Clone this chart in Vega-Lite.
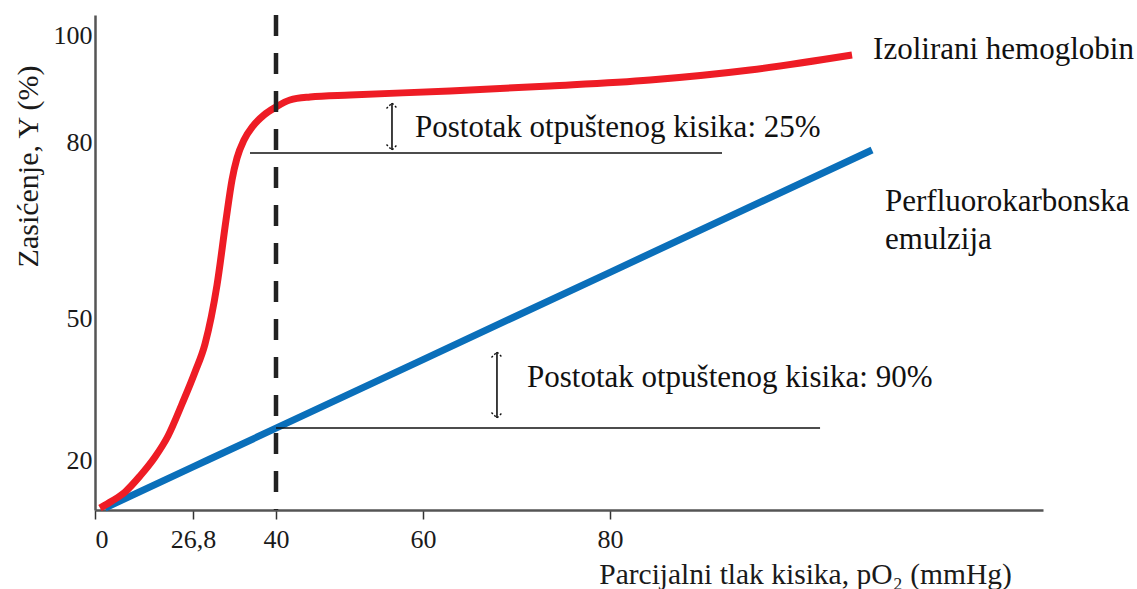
{
  "$schema": "https://vega.github.io/schema/vega-lite/v6.json",
  "width": 948,
  "height": 495,
  "autosize": {"type": "none"},
  "padding": {"left": 95, "top": 15, "right": 94, "bottom": 79},
  "background": "white",
  "config": {
    "view": {"stroke": null},
    "font": "'Liberation Serif', 'Times New Roman', serif"
  },
  "datasets": {
    "red": [
      {"p": 1.37, "s": 9.85},
      {"p": 4.65, "s": 11.33},
      {"p": 8.2, "s": 13.23},
      {"p": 12.31, "s": 16.62},
      {"p": 16.41, "s": 20.63},
      {"p": 19.96, "s": 25.07},
      {"p": 23.79, "s": 31.83},
      {"p": 27.12, "s": 38.59},
      {"p": 28.71, "s": 44.51},
      {"p": 30.62, "s": 55.62},
      {"p": 32.05, "s": 66.7},
      {"p": 33.0, "s": 73.52},
      {"p": 33.8, "s": 77.27},
      {"p": 34.91, "s": 80.37},
      {"p": 36.34, "s": 82.99},
      {"p": 38.09, "s": 85.05},
      {"p": 40.0, "s": 86.54},
      {"p": 41.9, "s": 87.85},
      {"p": 44.63, "s": 88.41},
      {"p": 50.07, "s": 88.79},
      {"p": 62.89, "s": 89.53},
      {"p": 73.58, "s": 90.47},
      {"p": 84.28, "s": 91.59},
      {"p": 94.97, "s": 93.46},
      {"p": 105.88, "s": 96.26}
    ],
    "blue": [
      {"p": 2.73, "s": 9.85},
      {"p": 26.8, "s": 18.54},
      {"p": 29.15, "s": 20.0},
      {"p": 40.0, "s": 26.72},
      {"p": 60.0, "s": 41.21},
      {"p": 69.52, "s": 50.0},
      {"p": 80.0, "s": 57.79},
      {"p": 108.02, "s": 78.63}
    ],
    "refs": [
      {"p1": 35.86, "p2": 91.98, "s": 78.12},
      {"p1": 40.0, "p2": 102.46, "s": 26.76}
    ],
    "arrows": [
      {"p": 55.78, "top": 87.29, "bot": 78.63},
      {"p": 67.91, "top": 42.82, "bot": 28.87}
    ],
    "labels": [
      {"p": 58.91, "s": 82.62, "t": "Postotak otpuštenog kisika: 25%"},
      {"p": 71.12, "s": 37.33, "t": "Postotak otpuštenog kisika: 90%"},
      {"p": 108.13, "s": 97.2, "t": "Izolirani hemoglobin"},
      {"p": 109.41, "s": 69.77, "t": "Perfluorokarbonska"},
      {"p": 109.41, "s": 63.29, "t": "emulzija"}
    ],
    "dash": [{"p": 40}]
  },
  "encoding": {
    "x": {
      "field": "p",
      "type": "quantitative",
      "scale": {"domain": [0, 26.8, 40, 60, 80, 126.3], "range": [0, 98, 181, 328, 515, 948], "zero": false, "nice": false},
      "axis": {
        "values": [0, 26.8, 40, 60, 80],
        "labelExpr": "datum.value == 26.8 ? '26,8' : format(datum.value, 'd')",
        "grid": false,
        "domainColor": "#555555",
        "domainWidth": 2.5,
        "tickColor": "#333333",
        "tickWidth": 1.5,
        "tickSize": 9,
        "labelFont": "'Liberation Serif', 'Times New Roman', serif",
        "labelFontSize": 26,
        "labelColor": "#1a1a1a",
        "labelPadding": 7,
        "title": "Parcijalni tlak kisika, pO₂  (mmHg)",
        "titleFont": "'Liberation Serif', 'Times New Roman', serif",
        "titleFontSize": 29.5,
        "titleFontWeight": "normal",
        "titleColor": "#1a1a1a",
        "titleX": 710,
        "titleY": 64,
        "titleAlign": "center",
        "titleBaseline": "middle"
      }
    },
    "y": {
      "field": "s",
      "type": "quantitative",
      "scale": {"domain": [9.43, 20, 50, 80, 100, 103.7], "range": [495, 445, 303, 127, 20, 0], "zero": false, "nice": false},
      "axis": {
        "values": [20, 50, 80, 100],
        "grid": false,
        "ticks": false,
        "domainColor": "#555555",
        "domainWidth": 2.5,
        "labelFont": "'Liberation Serif', 'Times New Roman', serif",
        "labelFontSize": 26,
        "labelColor": "#1a1a1a",
        "labelPadding": 3,
        "title": "Zasićenje, Y (%)",
        "titleFont": "'Liberation Serif', 'Times New Roman', serif",
        "titleFontSize": 30,
        "titleFontWeight": "normal",
        "titleColor": "#1a1a1a",
        "titleX": -67,
        "titleY": 151,
        "titleAngle": -90,
        "titleAlign": "center",
        "titleBaseline": "middle"
      }
    }
  },
  "layer": [
    {
      "data": {"name": "blue"},
      "mark": {"type": "line", "color": "#0a6fba", "strokeWidth": 7, "strokeCap": "butt"}
    },
    {
      "data": {"name": "red"},
      "mark": {"type": "line", "color": "#ee1c25", "strokeWidth": 7, "interpolate": "monotone", "strokeCap": "butt"}
    },
    {
      "data": {"name": "dash"},
      "mark": {"type": "rule", "color": "#222222", "strokeWidth": 4.5, "strokeDash": [21, 17]},
      "encoding": {"y": null}
    },
    {
      "data": {"name": "refs"},
      "mark": {"type": "rule", "color": "#111111", "strokeWidth": 1.6},
      "encoding": {
        "x": {"field": "p1", "type": "quantitative"},
        "x2": {"field": "p2"}
      }
    },
    {
      "data": {"name": "arrows"},
      "mark": {"type": "rule", "color": "#111111", "strokeWidth": 1.6},
      "encoding": {
        "y": {"field": "top", "type": "quantitative"},
        "y2": {"field": "bot"}
      }
    },
    {
      "data": {"name": "arrows"},
      "mark": {"type": "point", "shape": "M -1 1 L 0 0 L 1 1", "filled": false, "color": "#111111", "strokeWidth": 1.4, "size": 120, "strokeDash": [2, 2], "opacity": 1},
      "encoding": {"y": {"field": "top", "type": "quantitative"}}
    },
    {
      "data": {"name": "arrows"},
      "mark": {"type": "point", "shape": "M -1 -1 L 0 0 L 1 -1", "filled": false, "color": "#111111", "strokeWidth": 1.4, "size": 120, "strokeDash": [2, 2], "opacity": 1},
      "encoding": {"y": {"field": "bot", "type": "quantitative"}}
    },
    {
      "data": {"name": "labels"},
      "mark": {"type": "text", "align": "left", "baseline": "middle", "font": "'Liberation Serif', 'Times New Roman', serif", "fontSize": 31, "color": "#111111"},
      "encoding": {"text": {"field": "t"}}
    }
  ]
}
